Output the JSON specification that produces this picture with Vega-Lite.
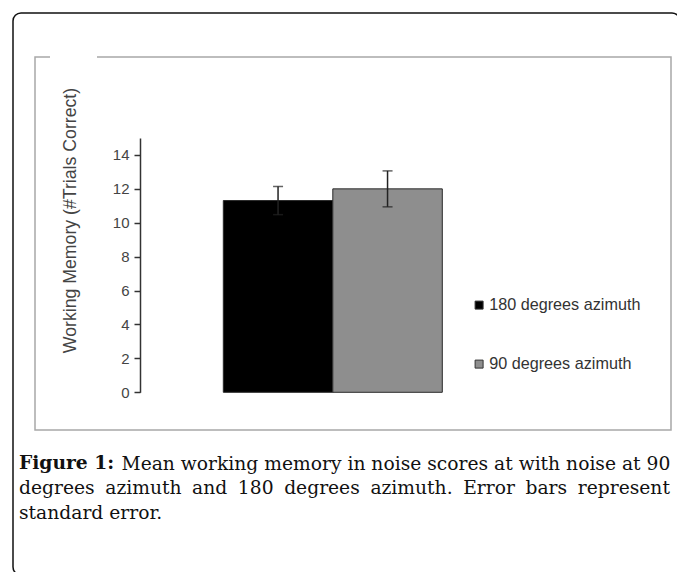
{
  "$schema": "https://vega.github.io/schema/vega-lite/v6.json",
  "width": 636,
  "height": 373,
  "autosize": {"type": "none"},
  "padding": {"left": 35, "top": 57, "right": 6, "bottom": 142},
  "background": "white",
  "config": {"view": {"stroke": "#a8a8a8", "strokeWidth": 1.5}, "font": "Liberation Sans"},
  "data": {"values": [
    {"condition": "180 degrees azimuth", "mean": 11.31, "lower": 10.48, "upper": 12.14},
    {"condition": "90 degrees azimuth", "mean": 12.0, "lower": 10.94, "upper": 13.06}
  ]},
  "title": {
    "text": "Figure 1:",
    "subtitle": [
      "degrees \u2005azimuth \u2005and \u2005180 \u2005degrees \u2005azimuth. \u2005Error \u2005bars \u2005represent",
      "standard error."
    ],
    "orient": "bottom",
    "anchor": "start",
    "frame": "group",
    "dx": -16,
    "offset": -122,
    "font": "DejaVu Serif",
    "fontSize": 18.7,
    "fontWeight": "bold",
    "color": "#111111",
    "subtitleFont": "DejaVu Serif",
    "subtitleFontSize": 18.7,
    "subtitleFontWeight": "normal",
    "subtitleColor": "#111111",
    "subtitleLineHeight": 25,
    "subtitlePadding": 7
  },
  "layer": [
    {
      "data": {"values": [{}]},
      "mark": {"type": "rect", "fill": "transparent", "stroke": "#111111", "strokeWidth": 1.5, "cornerRadius": 8},
      "encoding": {"x": {"value": -22}, "x2": {"value": 645}, "y": {"value": -44}, "y2": {"value": 518}}
    },
    {
      "data": {"values": [{}]},
      "mark": {"type": "rule", "stroke": "white", "strokeWidth": 3},
      "encoding": {"x": {"value": 15}, "x2": {"value": 62}, "y": {"value": 0}}
    },
    {
      "mark": {"type": "bar", "stroke": "#2a2a2a", "strokeWidth": 1},
      "encoding": {
        "x": {"field": "condition", "type": "nominal", "sort": null,
              "scale": {"range": [188.3, 407.3], "paddingInner": 0, "paddingOuter": 0},
              "axis": {"orient": "bottom", "domain": false, "ticks": false, "labels": false, "grid": false,
                       "title": "Mean working memory in noise scores at with noise at 90",
                       "titleFont": "DejaVu Serif", "titleFontSize": 18.7, "titleFontWeight": "normal",
                       "titleColor": "#111111", "titleX": 86, "titleY": 39, "titleAlign": "left",
                       "titleBaseline": "alphabetic", "titleAnchor": "start"}},
        "y": {"field": "mean", "type": "quantitative",
              "scale": {"domain": [0, 15], "range": [335.3, 81], "nice": false, "zero": false},
              "axis": {
                "orient": "left", "offset": -105, "values": [0, 2, 4, 6, 8, 10, 12, 14], "grid": false,
                "domainColor": "#333333", "domainWidth": 1.5, "tickColor": "#333333", "tickWidth": 1.5, "tickSize": 6,
                "labelFont": "Liberation Sans", "labelFontSize": 15, "labelColor": "#444444", "labelPadding": 5,
                "title": "Working Memory  (#Trials Correct)", "titleFont": "Liberation Sans", "titleFontSize": 17.7,
                "titleFontWeight": "normal", "titleColor": "#444444", "titleX": -70, "titleY": 163,
                "titleAngle": -90, "titleAlign": "center", "titleBaseline": "middle"
              }},
        "color": {"field": "condition", "type": "nominal", "sort": null,
                  "scale": {"range": ["#000000", "#8e8e8e"]},
                  "legend": {"orient": "none", "legendX": 436, "legendY": 240, "title": null, "symbolType": "square",
                             "symbolSize": 64, "symbolStrokeColor": "#333333", "symbolStrokeWidth": 1,
                             "labelFont": "Liberation Sans", "labelFontSize": 16.2, "labelColor": "#333333",
                             "labelOffset": 2, "rowPadding": 42, "padding": 0}}
      }
    },
    {
      "mark": {"type": "rule", "color": "#222222", "strokeWidth": 1.5},
      "encoding": {
        "x": {"field": "condition", "type": "nominal", "sort": null},
        "y": {"field": "lower", "type": "quantitative"},
        "y2": {"field": "upper"}
      }
    },
    {
      "mark": {"type": "tick", "color": "#222222", "size": 10, "thickness": 1.5},
      "encoding": {
        "x": {"field": "condition", "type": "nominal", "sort": null},
        "y": {"field": "upper", "type": "quantitative"}
      }
    },
    {
      "mark": {"type": "tick", "color": "#222222", "size": 10, "thickness": 1.5},
      "encoding": {
        "x": {"field": "condition", "type": "nominal", "sort": null},
        "y": {"field": "lower", "type": "quantitative"}
      }
    }
  ]
}
